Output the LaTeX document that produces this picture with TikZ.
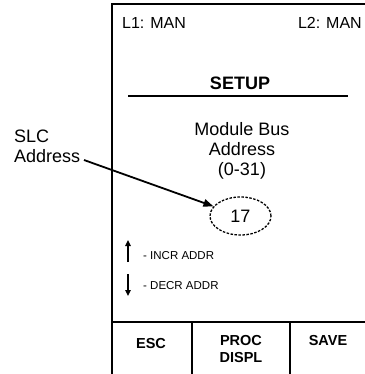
\documentclass[tikz,border=0pt]{standalone}
\usepackage{fontspec}
\setmainfont{Liberation Sans}
\usetikzlibrary{shapes.geometric,arrows.meta}
\begin{document}
\begin{tikzpicture}[x=1bp,y=-1bp,
  frame/.style={line width=1.2bp,black},
  big/.style={inner sep=0pt,font=\fontsize{18bp}{20bp}\selectfont},
  bigb/.style={inner sep=0pt,font=\fontsize{18bp}{20bp}\selectfont\bfseries},
  top/.style={inner sep=0pt,font=\fontsize{16bp}{18bp}\selectfont},
  small/.style={inner sep=0pt,font=\fontsize{11.5bp}{13bp}\selectfont},
  key/.style={inner sep=0pt,font=\fontsize{14.5bp}{17bp}\selectfont\bfseries},
  pointer/.style={line width=1.8bp,-{Triangle[length=10bp,width=7.5bp]}},
  updown/.style={line width=1.8bp,-{Triangle[length=6bp,width=5.5bp]}}]
\useasboundingbox (0,0) rectangle (365,374);
% frame
\draw[frame] (112,374) -- (112,4) -- (366,4);
\draw[frame] (128,96) -- (348,96);
\draw[frame] (112,322) -- (366,322);
\draw[frame] (192,322) -- (192,374);
\draw[frame] (290,322) -- (290,374);
% header
\node[top,anchor=base west] (l1) at (122,28) {L1: MAN};
\node[top,anchor=base east] (l2) at (362,28) {L2: MAN};
\node[bigb,anchor=base] (setup) at (240,89.5) {SETUP};
\node[big,anchor=base] (mb1) at (242,135) {Module Bus};
\node[big,anchor=base] (mb2) at (242,155) {Address};
\node[big,anchor=base] (mb3) at (242,175) {(0-31)};
% value
\node[draw,ellipse,dashed,dash pattern=on 2.5bp off 1.5bp,line width=1.3bp,
      minimum width=61bp,minimum height=38bp,inner sep=0pt] (ell) at (240.5,216) {};
\node[big,anchor=base] (val) at (240.5,222) {17};
% label
\node[big,anchor=base west] (slc) at (14,142) {SLC};
\node[big,anchor=base west] (slcaddr) at (14,162) {Address};
\coordinate (arrstart) at (84,160);
\draw[pointer] (arrstart) -- (ell);
% up / down keys
\coordinate (ua) at (128,262);
\coordinate (ub) at (128,240);
\coordinate (da) at (128,274);
\coordinate (db) at (128,296);
\draw[updown] (ua) -- (ub);
\draw[updown] (da) -- (db);
\node[small,anchor=base west] (incr) at (143,259) {- INCR ADDR};
\node[small,anchor=base west] (decr) at (143,289) {- DECR ADDR};
% soft keys
\node[key,anchor=base] (esc) at (151,348) {ESC};
\node[key,anchor=base] (proc) at (241,345) {PROC};
\node[key,anchor=base] (displ) at (241,362) {DISPL};
\node[key,anchor=base] (save) at (328,345) {SAVE};
\end{tikzpicture}
\end{document}
